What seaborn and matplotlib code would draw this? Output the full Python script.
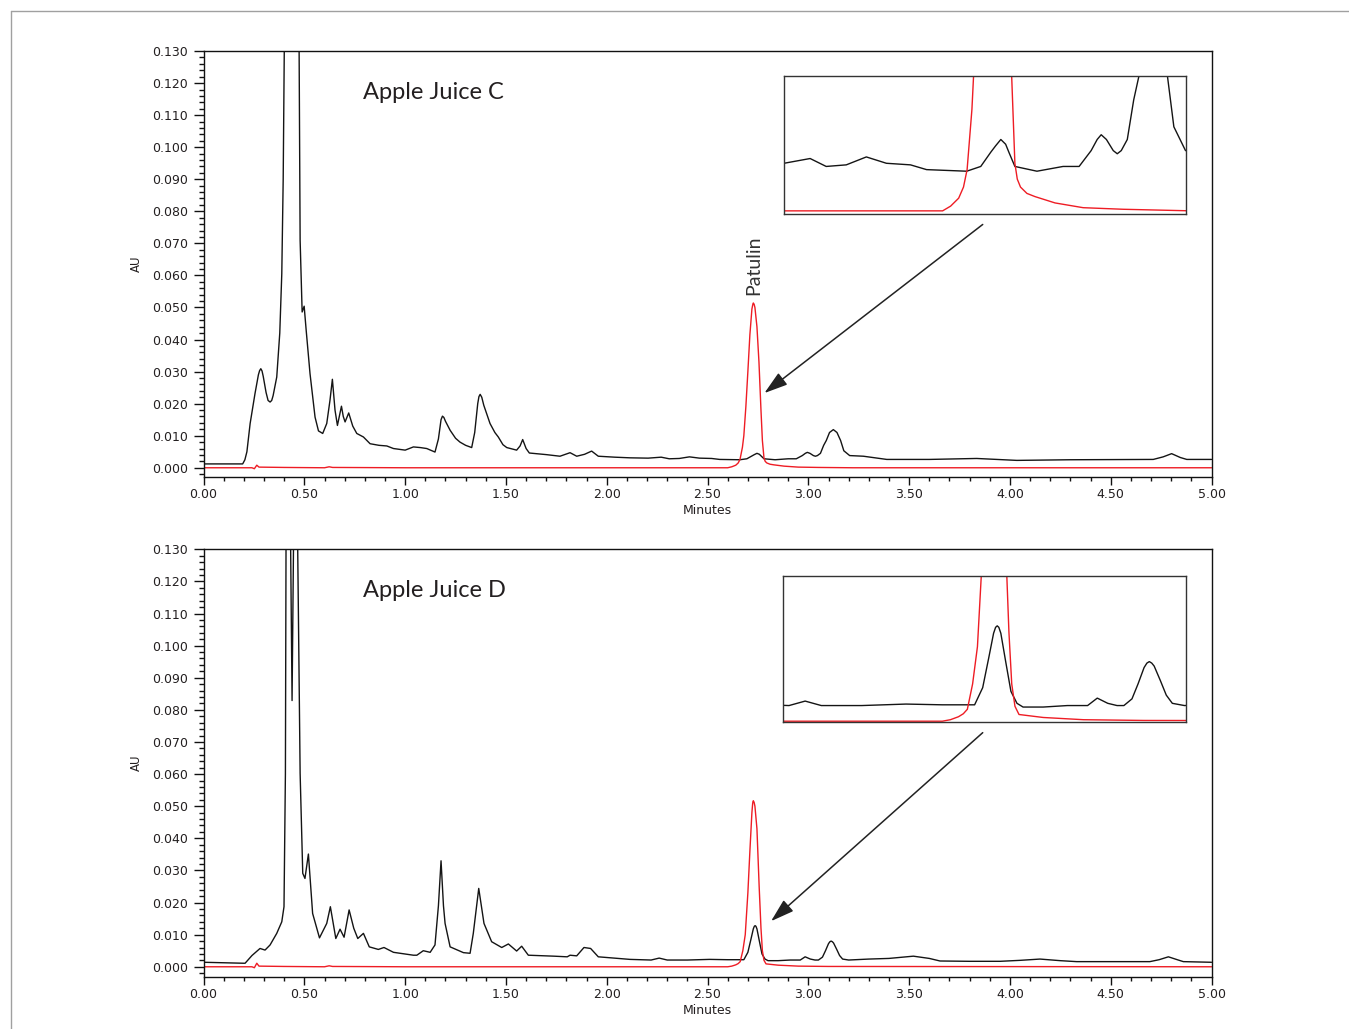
import matplotlib
matplotlib.use("Agg")
import matplotlib.pyplot as plt
from matplotlib.ticker import MultipleLocator, FormatStrFormatter
from matplotlib.lines import Line2D
import seaborn as sns

# ---- Apple Juice C (retention time in minutes, absorbance in AU) ----
c_black_t = [0.000, 0.194, 0.205, 0.215, 0.231, 0.255, 0.272, 0.278, 0.284, 0.290,
             0.296, 0.310, 0.320, 0.330, 0.338, 0.345, 0.363, 0.378, 0.388, 0.395,
             0.400, 0.420, 0.440, 0.460, 0.474, 0.479, 0.489, 0.499, 0.509, 0.528,
             0.553, 0.570, 0.591, 0.611, 0.627, 0.639, 0.652, 0.664, 0.684, 0.693,
             0.702, 0.720, 0.740, 0.760, 0.793, 0.810, 0.826, 0.870, 0.909, 0.942,
             1.000, 1.041, 1.075, 1.107, 1.148, 1.165, 1.178, 1.185, 1.192, 1.200,
             1.223, 1.250, 1.272, 1.300, 1.330, 1.345, 1.360, 1.366, 1.372, 1.380,
             1.390, 1.421, 1.445, 1.462, 1.485, 1.504, 1.553, 1.570, 1.583, 1.600,
             1.616, 1.700, 1.768, 1.818, 1.851, 1.890, 1.925, 1.958, 2.040, 2.115,
             2.205, 2.270, 2.310, 2.360, 2.410, 2.460, 2.520, 2.560, 2.660, 2.695,
             2.720, 2.732, 2.745, 2.757, 2.765, 2.780, 2.835, 2.900, 2.940, 2.970,
             2.985, 2.995, 3.008, 3.025, 3.035, 3.045, 3.060, 3.076, 3.089, 3.105,
             3.124, 3.142, 3.160, 3.176, 3.205, 3.273, 3.389, 3.600, 3.835, 4.034,
             4.300, 4.711, 4.760, 4.802, 4.845, 4.877, 5.000]
c_black_au = [0.0012, 0.0012, 0.0025, 0.0050, 0.0138, 0.0231, 0.0290, 0.0303, 0.0309, 0.0302,
              0.0285, 0.0235, 0.0210, 0.0205, 0.0210, 0.0225, 0.0283, 0.0420, 0.0605, 0.0900,
              0.1300, 0.2600, 0.3000, 0.2400, 0.1300, 0.0709, 0.0486, 0.0504, 0.0429, 0.0294,
              0.0158, 0.0115, 0.0107, 0.0138, 0.0210, 0.0276, 0.0180, 0.0132, 0.0192, 0.0160,
              0.0143, 0.0171, 0.0130, 0.0107, 0.0096, 0.0085, 0.0075, 0.0070, 0.0068, 0.0060,
              0.0055, 0.0065, 0.0063, 0.0060, 0.0049, 0.0090, 0.0150, 0.0161, 0.0157, 0.0145,
              0.0117, 0.0092, 0.0080, 0.0070, 0.0063, 0.0110, 0.0200, 0.0222, 0.0229, 0.0220,
              0.0195, 0.0138, 0.0110, 0.0096, 0.0072, 0.0063, 0.0055, 0.0068, 0.0088, 0.0060,
              0.0046, 0.0041, 0.0036, 0.0047, 0.0036, 0.0042, 0.0052, 0.0036, 0.0033, 0.0031,
              0.0030, 0.0033, 0.0028, 0.0029, 0.0034, 0.0030, 0.0029, 0.0026, 0.0025, 0.0028,
              0.0037, 0.0041, 0.0045, 0.0042, 0.0037, 0.0028, 0.0025, 0.0028, 0.0028, 0.0038,
              0.0045, 0.0048, 0.0045, 0.0038, 0.0036, 0.0038, 0.0045, 0.0070, 0.0085, 0.0110,
              0.0119, 0.0110, 0.0085, 0.0053, 0.0038, 0.0036, 0.0026, 0.0026, 0.0029, 0.0023,
              0.0025, 0.0026, 0.0034, 0.0044, 0.0032, 0.0026, 0.0026]

c_red_t = [0.000, 0.240, 0.252, 0.264, 0.275, 0.400, 0.600, 0.623, 0.640, 1.000,
           2.600, 2.620, 2.640, 2.652, 2.661, 2.673, 2.680, 2.690, 2.700, 2.710,
           2.720, 2.724, 2.727, 2.731, 2.735, 2.745, 2.755, 2.765, 2.772, 2.780,
           2.786, 2.794, 2.810, 2.830, 2.880, 2.950, 3.050, 3.220, 5.000]
c_red_au = [0.0000, 0.0000, -0.0003, 0.0008, 0.0002, 0.0001, 0.0000, 0.0003, 0.0001, 0.0000,
            0.0000, 0.0003, 0.0008, 0.0015, 0.0026, 0.0064, 0.0100, 0.0190, 0.0300, 0.0415,
            0.0495, 0.0508, 0.0514, 0.0510, 0.0500, 0.0440, 0.0330, 0.0180, 0.0085, 0.0030,
            0.0020, 0.0015, 0.0011, 0.0009, 0.0005, 0.0002, 0.0001, 0.0000, 0.0000]

# ---- Apple Juice D ----
d_black_t = [0.000, 0.198, 0.206, 0.240, 0.280, 0.305, 0.330, 0.363, 0.388, 0.399,
             0.406, 0.409, 0.420, 0.432, 0.439, 0.446, 0.456, 0.467, 0.479, 0.492,
             0.503, 0.520, 0.541, 0.575, 0.611, 0.629, 0.656, 0.677, 0.697, 0.722,
             0.745, 0.765, 0.793, 0.822, 0.867, 0.895, 0.942, 1.041, 1.058, 1.090,
             1.124, 1.148, 1.165, 1.178, 1.190, 1.198, 1.223, 1.289, 1.322, 1.338,
             1.365, 1.391, 1.429, 1.479, 1.512, 1.553, 1.578, 1.611, 1.738, 1.804,
             1.818, 1.851, 1.887, 1.920, 1.958, 2.115, 2.220, 2.260, 2.300, 2.400,
             2.510, 2.600, 2.680, 2.700, 2.715, 2.727, 2.732, 2.736, 2.740, 2.745,
             2.757, 2.770, 2.785, 2.800, 2.850, 2.910, 2.960, 2.984, 3.010, 3.033,
             3.050, 3.070, 3.085, 3.100, 3.107, 3.113, 3.119, 3.125, 3.140, 3.155,
             3.170, 3.200, 3.300, 3.400, 3.521, 3.600, 3.653, 3.800, 3.951, 4.050,
             4.149, 4.250, 4.331, 4.694, 4.740, 4.786, 4.830, 4.860, 5.000]
d_black_au = [0.0014, 0.0011, 0.0011, 0.0035, 0.0057, 0.0052, 0.0068, 0.0104, 0.0140, 0.0187,
              0.0602, 0.1300, 0.2000, 0.1300, 0.0829, 0.1300, 0.2000, 0.1300, 0.0602, 0.0291,
              0.0275, 0.0351, 0.0166, 0.0090, 0.0135, 0.0187, 0.0088, 0.0117, 0.0092, 0.0177,
              0.0120, 0.0088, 0.0104, 0.0062, 0.0054, 0.0060, 0.0045, 0.0036, 0.0036, 0.0050,
              0.0045, 0.0068, 0.0190, 0.0330, 0.0190, 0.0135, 0.0062, 0.0044, 0.0042, 0.0104,
              0.0244, 0.0135, 0.0078, 0.0060, 0.0071, 0.0049, 0.0064, 0.0036, 0.0033, 0.0031,
              0.0036, 0.0034, 0.0060, 0.0057, 0.0031, 0.0023, 0.0021, 0.0027, 0.0021, 0.0021,
              0.0023, 0.0022, 0.0022, 0.0045, 0.0085, 0.0118, 0.0126, 0.0128, 0.0126, 0.0118,
              0.0080, 0.0040, 0.0024, 0.0019, 0.0019, 0.0021, 0.0021, 0.0031, 0.0024, 0.0021,
              0.0021, 0.0030, 0.0050, 0.0072, 0.0078, 0.0080, 0.0078, 0.0074, 0.0055, 0.0035,
              0.0024, 0.0021, 0.0024, 0.0026, 0.0033, 0.0026, 0.0018, 0.0017, 0.0017, 0.0020,
              0.0024, 0.0019, 0.0016, 0.0016, 0.0022, 0.0031, 0.0022, 0.0016, 0.0014]

d_red_t = [0.000, 0.240, 0.252, 0.264, 0.275, 0.400, 0.600, 0.623, 0.640, 1.000,
           2.600, 2.620, 2.640, 2.652, 2.662, 2.675, 2.687, 2.700, 2.710, 2.720,
           2.724, 2.727, 2.731, 2.735, 2.745, 2.756, 2.765, 2.772, 2.780, 2.790,
           2.850, 2.950, 3.100, 5.000]
d_red_au = [0.0000, 0.0000, -0.0003, 0.0011, 0.0002, 0.0001, 0.0000, 0.0003, 0.0001, 0.0000,
            0.0000, 0.0002, 0.0006, 0.0010, 0.0016, 0.0050, 0.0100, 0.0230, 0.0360, 0.0480,
            0.0510, 0.0517, 0.0512, 0.0500, 0.0430, 0.0250, 0.0120, 0.0050, 0.0020, 0.0009,
            0.0005, 0.0002, 0.0001, 0.0000]

sample_names = ["Apple Juice C", "Apple Juice D"]
peak_label = "Patulin"

# ---- style ----
sns.set_theme(style="ticks")
plt.rcParams["font.family"] = ["DejaVu Sans"]
plt.rcParams["axes.linewidth"] = 1.0
plt.rcParams["axes.edgecolor"] = "#111111"

BLACK = "#141414"
RED = "#ee1c24"
TXT = "#231f20"

fig = plt.figure(figsize=(13.49, 10.29), dpi=100)
fig.patch.set_facecolor("white")

# thin grey page border (top & left)
fig.add_artist(Line2D([11 / 1349, 1], [1 - 11 / 1029, 1 - 11 / 1029],
                      transform=fig.transFigure, color="#a0a0a0", lw=1))
fig.add_artist(Line2D([11 / 1349, 11 / 1349], [0, 1 - 11 / 1029],
                      transform=fig.transFigure, color="#a0a0a0", lw=1))

panels = [
    dict(rect=[0.1509, 0.5367, 0.7472, 0.4137], inset=[0.5812, 0.7920, 0.2976, 0.1341],
         bt=c_black_t, ba=c_black_au, rt=c_red_t, ra=c_red_au, name=sample_names[0],
         ybot=-0.0028, iny=(-0.0002, 0.0085), title_y=0.8866,
         arr_from=(3.865, 0.0759), arr_to=(2.782, 0.0233), label=True),
    dict(rect=[0.1509, 0.0508, 0.7472, 0.4154], inset=[0.5804, 0.2984, 0.2991, 0.1419],
         bt=d_black_t, ba=d_black_au, rt=d_red_t, ra=d_red_au, name=sample_names[1],
         ybot=-0.0031, iny=(-0.0001, 0.0195), title_y=0.8877,
         arr_from=(3.865, 0.0729), arr_to=(2.815, 0.0142), label=False),
]

for p in panels:
    ax = fig.add_axes(p["rect"])
    sns.lineplot(x=p["bt"], y=p["ba"], ax=ax, color=BLACK, lw=1.0, estimator=None)
    sns.lineplot(x=p["rt"], y=p["ra"], ax=ax, color=RED, lw=1.0, estimator=None)
    ax.set_xlim(0, 5)
    ax.set_ylim(p["ybot"], 0.130)
    ax.xaxis.set_major_locator(MultipleLocator(0.5))
    ax.xaxis.set_minor_locator(MultipleLocator(0.1))
    ax.yaxis.set_major_locator(MultipleLocator(0.01))
    ax.yaxis.set_minor_locator(MultipleLocator(0.002))
    ax.xaxis.set_major_formatter(FormatStrFormatter("%.2f"))
    ax.yaxis.set_major_formatter(FormatStrFormatter("%.3f"))
    ax.tick_params(axis="both", which="both", direction="out", color="#111111",
                   labelcolor=TXT, labelsize=9, width=1.0)
    ax.tick_params(axis="y", which="major", length=7.5, pad=3.5)
    ax.tick_params(axis="y", which="minor", length=3.6)
    ax.tick_params(axis="x", which="major", length=6, pad=2)
    ax.tick_params(axis="x", which="minor", length=3)
    ax.set_xlabel("Minutes", fontsize=9, color=TXT, labelpad=2)
    ax.set_ylabel("AU", fontsize=8.5, color=TXT, labelpad=7)

    ax.text(0.1585, p["title_y"], p["name"], transform=ax.transAxes, fontsize=17,
            family=["Lato", "DejaVu Sans"], color=TXT, va="baseline")
    if p["label"]:
        ax.text(2.727, 0.0538, peak_label, rotation=90, ha="center", va="bottom",
                fontsize=14, family=["Lato", "DejaVu Sans"], color="#333333")

    ax.annotate("", xy=p["arr_to"], xytext=p["arr_from"], xycoords="data",
                arrowprops=dict(arrowstyle="-|>,head_length=0.8,head_width=0.25",
                                mutation_scale=18, color="#222222", lw=1.1,
                                shrinkA=0, shrinkB=0))

    # zoomed view around the patulin peak
    axi = fig.add_axes(p["inset"])
    sns.lineplot(x=p["bt"], y=p["ba"], ax=axi, color=BLACK, lw=1.0, estimator=None)
    sns.lineplot(x=p["rt"], y=p["ra"], ax=axi, color=RED, lw=1.0, estimator=None)
    axi.set_xlim(2.205, 3.205)
    axi.set_ylim(*p["iny"])
    axi.set_xticks([])
    axi.set_yticks([])
    axi.set_xlabel("")
    axi.set_ylabel("")
    for s in axi.spines.values():
        s.set_color("#333333")
        s.set_linewidth(1.0)

fig.savefig("out.png", dpi=100)
